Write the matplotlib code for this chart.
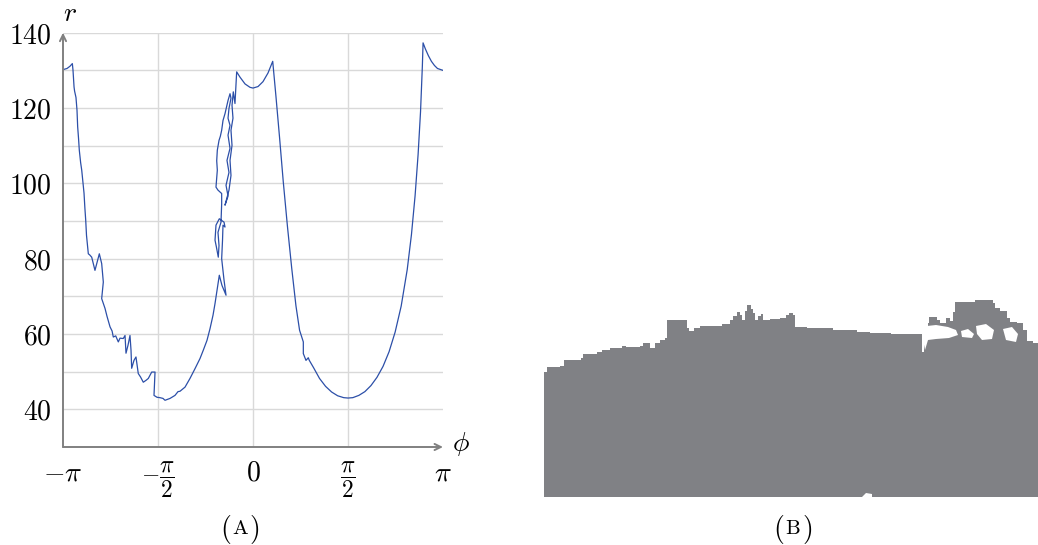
import numpy as np
import matplotlib
matplotlib.use("Agg")
import matplotlib.pyplot as plt

plt.rcParams['mathtext.fontset'] = 'cm'
plt.rcParams['font.family'] = ['DejaVu Serif']

# (A) r versus phi
phi = [-3.14, -3.075, -3.026, -2.987, -2.976, -2.959, -2.950, -2.927, -2.918, -2.910, -2.899,
       -2.885, -2.872, -2.850, -2.832, -2.810, -2.794, -2.780, -2.766, -2.753, -2.736,
       -2.723, -2.700, -2.667, -2.646, -2.613, -2.579, -2.541, -2.502, -2.475, -2.502,
       -2.447, -2.414, -2.364, -2.330, -2.310, -2.270, -2.227, -2.199, -2.145, -2.116,
       -2.100, -2.067, -2.034, -2.017, -2.006, -1.968, -1.935, -1.897, -1.860, -1.814,
       -1.769, -1.731, -1.675, -1.620, -1.637, -1.587, -1.538, -1.488, -1.455, -1.372,
       -1.290, -1.240, -1.207, -1.124, -1.042, -0.959, -0.876, -0.822, -0.761, -0.711,
       -0.661, -0.628, -0.595, -0.557, -0.513, -0.446, -0.479, -0.491, -0.518, -0.504,
       -0.496, -0.463, -0.479, -0.557, -0.612, -0.628, -0.604, -0.574, -0.562, -0.579,
       -0.529, -0.518, -0.518, -0.579, -0.612, -0.590, -0.600, -0.590, -0.562, -0.540,
       -0.518, -0.496, -0.463, -0.413, -0.380, -0.364, -0.397, -0.413, -0.380, -0.413,
       -0.380, -0.430, -0.397, -0.446, -0.413, -0.463, -0.397, -0.364, -0.380, -0.347,
       -0.364, -0.331, -0.347, -0.326, -0.298, -0.270,
       -0.215, -0.132, -0.050, 0.000, 0.083, 0.165, 0.248, 0.326,
       0.380, 0.440, 0.500, 0.570, 0.640, 0.710, 0.770, 0.832, 0.832, 0.876, 0.914, 0.931,
       1.000, 1.100, 1.200, 1.300, 1.400, 1.500, 1.571, 1.650, 1.750, 1.850, 1.950, 2.050,
       2.150, 2.250, 2.350, 2.450, 2.550, 2.620, 2.680, 2.730, 2.770, 2.800, 2.812,
       2.850, 2.900, 2.950, 3.000, 3.050, 3.1416]
r = [130.2, 130.5, 131.1, 131.8, 130.0, 125.6, 124.5, 122.8, 121.0, 119.4, 115.0,
     112.0, 108.8, 105.5, 103.5, 100.0, 97.4, 93.5, 90.2, 86.2, 83.5,
     81.3, 81.0, 80.4, 79.0, 76.9, 79.0, 81.3, 78.7, 73.8, 69.4,
     66.8, 64.7, 61.9, 60.8, 59.2, 59.5, 57.9, 58.9, 58.8, 59.6,
     54.9, 57.0, 59.6, 55.7, 50.9, 53.0, 53.9, 49.5, 48.6, 47.2,
     47.7, 48.2, 49.9, 49.9, 43.7, 43.2, 43.1, 42.9, 42.4, 42.9,
     43.7, 44.7, 44.8, 45.9, 48.2, 50.8, 53.5, 55.7, 58.3, 61.4,
     65.0, 68.1, 71.6, 75.6, 72.9, 70.3, 74.3, 76.0, 80.0, 84.9,
     88.9, 88.4, 89.7, 90.6, 88.9, 84.9, 83.0, 80.4, 83.5, 87.0,
     89.7, 94.6, 97.3, 98.2, 99.0, 103.5, 106.0, 108.8, 111.4, 112.5,
     114.1, 116.7, 118.5, 122.0, 123.8, 122.6, 119.9, 117.3, 115.4, 112.8,
     109.3, 106.1, 102.9, 99.5, 96.6, 94.2, 98.2, 102.1, 106.1, 110.1,
     114.1, 117.3, 120.7, 124.3, 121.2, 129.6,
     128.2, 126.4, 125.5, 125.3, 125.7, 127.0, 129.3, 132.4,
     123.0, 112.0, 100.5, 88.5, 77.5, 67.5, 61.0, 57.9, 54.8, 53.0, 53.7, 53.0,
     51.1, 48.2, 46.1, 44.6, 43.6, 43.1, 43.0, 43.1, 43.7, 44.7, 46.3, 48.5,
     51.4, 55.3, 60.5, 67.4, 77.1, 86.4, 96.7, 107.7, 119.0, 131.0, 137.3,
     135.7, 133.9, 132.4, 131.3, 130.5, 130.0]

x_ticks = [-np.pi, -np.pi / 2, 0, np.pi / 2, np.pi]
x_labels = [r'$-\pi$', r'$-\dfrac{\pi}{2}$', r'$0$', r'$\dfrac{\pi}{2}$', r'$\pi$']
y_ticks = [40, 60, 80, 100, 120, 140]
y_grid = [40, 50, 60, 70, 80, 90, 100, 110, 120, 130, 140]

# (B) silhouette: image columns and top row of the grey region (step profile)
cols = [0, 3, 16, 20, 37, 39, 53, 58, 66, 78, 82, 96, 99, 104, 106, 111, 116, 121, 123,
        143, 145, 150, 156, 178, 186, 189, 193, 196, 198, 201, 203, 207, 209, 211, 214,
        217, 219, 226, 236, 242, 245, 249, 251, 263, 289, 313, 326, 347, 377, 378, 380,
        382, 384, 385, 393, 396, 402, 406, 409, 411, 431, 449, 451, 456, 463, 466, 473,
        479, 483, 489, 494]
tops = [82, 77, 75.5, 70, 68, 64, 62, 60, 58, 56, 57, 56, 53, 53, 58, 53, 50, 48, 30,
        38, 41, 38, 36, 34, 30, 26, 22, 25, 30, 21, 15, 19, 23, 30, 26,
        24, 30, 29, 28, 25, 23, 25, 37, 38, 40, 42, 43, 44, 44, 62, 55,
        50, 33, 27, 30, 33, 28, 31, 22, 12, 10, 13, 18, 21, 28, 32, 33,
        40, 51, 53, 53]
hole_cols = [[378, 383, 392, 404, 412, 414, 405, 392, 384, 381],
             [417, 424, 430, 428, 418],
             [432, 442, 450, 448, 438, 433],
             [459, 468, 474, 472, 462],
             [318, 322, 328, 328, 318]]
hole_rows = [[44, 36, 35, 37, 40, 45, 48, 49, 50, 60],
             [41, 39, 44, 48, 47],
             [36, 34, 40, 49, 50, 44],
             [39, 37, 44, 52, 50],
             [207, 203, 204, 207, 207]]
img_bottom = 207

blue = '#2c4fa8'
grey_axis = '#808080'
grid_c = '#d9d9d9'
fill_c = '#808185'

fig = plt.figure(figsize=(10.38, 5.45), dpi=100)
W, H = 1038, 545

ax = fig.add_axes([63 / W, (H - 447) / H, 380 / W, (447 - 32.7) / H])
for y in y_grid:
    ax.axhline(y, color=grid_c, lw=1.0, zorder=0)
for xv in x_ticks[1:-1]:
    ax.axvline(xv, color=grid_c, lw=1.0, zorder=0)
ax.plot(phi, r, color=blue, lw=0.9, zorder=3)
ax.set_xlim(-np.pi, np.pi)
ax.set_ylim(30, 140)
ax.set_xticks(x_ticks)
ax.set_xticklabels(x_labels, fontsize=20)
for lbl in ax.get_xticklabels():
    if 'frac' in lbl.get_text():
        lbl.set_fontsize(17)
ax.set_yticks(y_ticks)
ax.set_yticklabels(['$%d$' % v for v in y_ticks], fontsize=20)
ax.tick_params(length=0)
ax.tick_params(axis='y', pad=8)
ax.tick_params(axis='x', pad=9)
for s in ax.spines.values():
    s.set_visible(False)
arrow = dict(arrowstyle='->,head_length=0.45,head_width=0.22', color=grey_axis,
             lw=1.4, shrinkA=0, shrinkB=0)
ax.annotate('', xy=(1, 0), xytext=(0, 0), xycoords='axes fraction', arrowprops=arrow)
ax.annotate('', xy=(0, 1), xytext=(0, 0), xycoords='axes fraction', arrowprops=arrow)
ax.annotate(r'$r$', xy=(0, 1), xycoords='axes fraction', xytext=(5, 14),
            textcoords='offset points', fontsize=20, ha='center', va='center')
ax.annotate(r'$\phi$', xy=(1, 0), xycoords='axes fraction', xytext=(13, 2),
            textcoords='offset points', fontsize=20, ha='center', va='center')

# (B) panel
bx = fig.add_axes([544 / W, (H - 497) / H, 494 / W, 207 / H])
bx.fill_between(cols, tops, img_bottom, step='post', color=fill_c, lw=0)
for hc, hr in zip(hole_cols, hole_rows):
    bx.fill(hc, hr, color='white', lw=0)
bx.set_xlim(0, 494)
bx.set_ylim(img_bottom, 0)
bx.axis('off')

# captions (small caps letters)
for cx, letter in [(240, 'A'), (793, 'B')]:
    cy = 1 - 529 / H
    fig.text(cx / W, cy, r'$\mathrm{%s}$' % letter, fontsize=15, ha='center', va='center')
    fig.text((cx - 9) / W, cy, r'$($', fontsize=20, ha='right', va='center')
    fig.text((cx + 9) / W, cy, r'$)$', fontsize=20, ha='left', va='center')

fig.savefig('out.png', dpi=100)
